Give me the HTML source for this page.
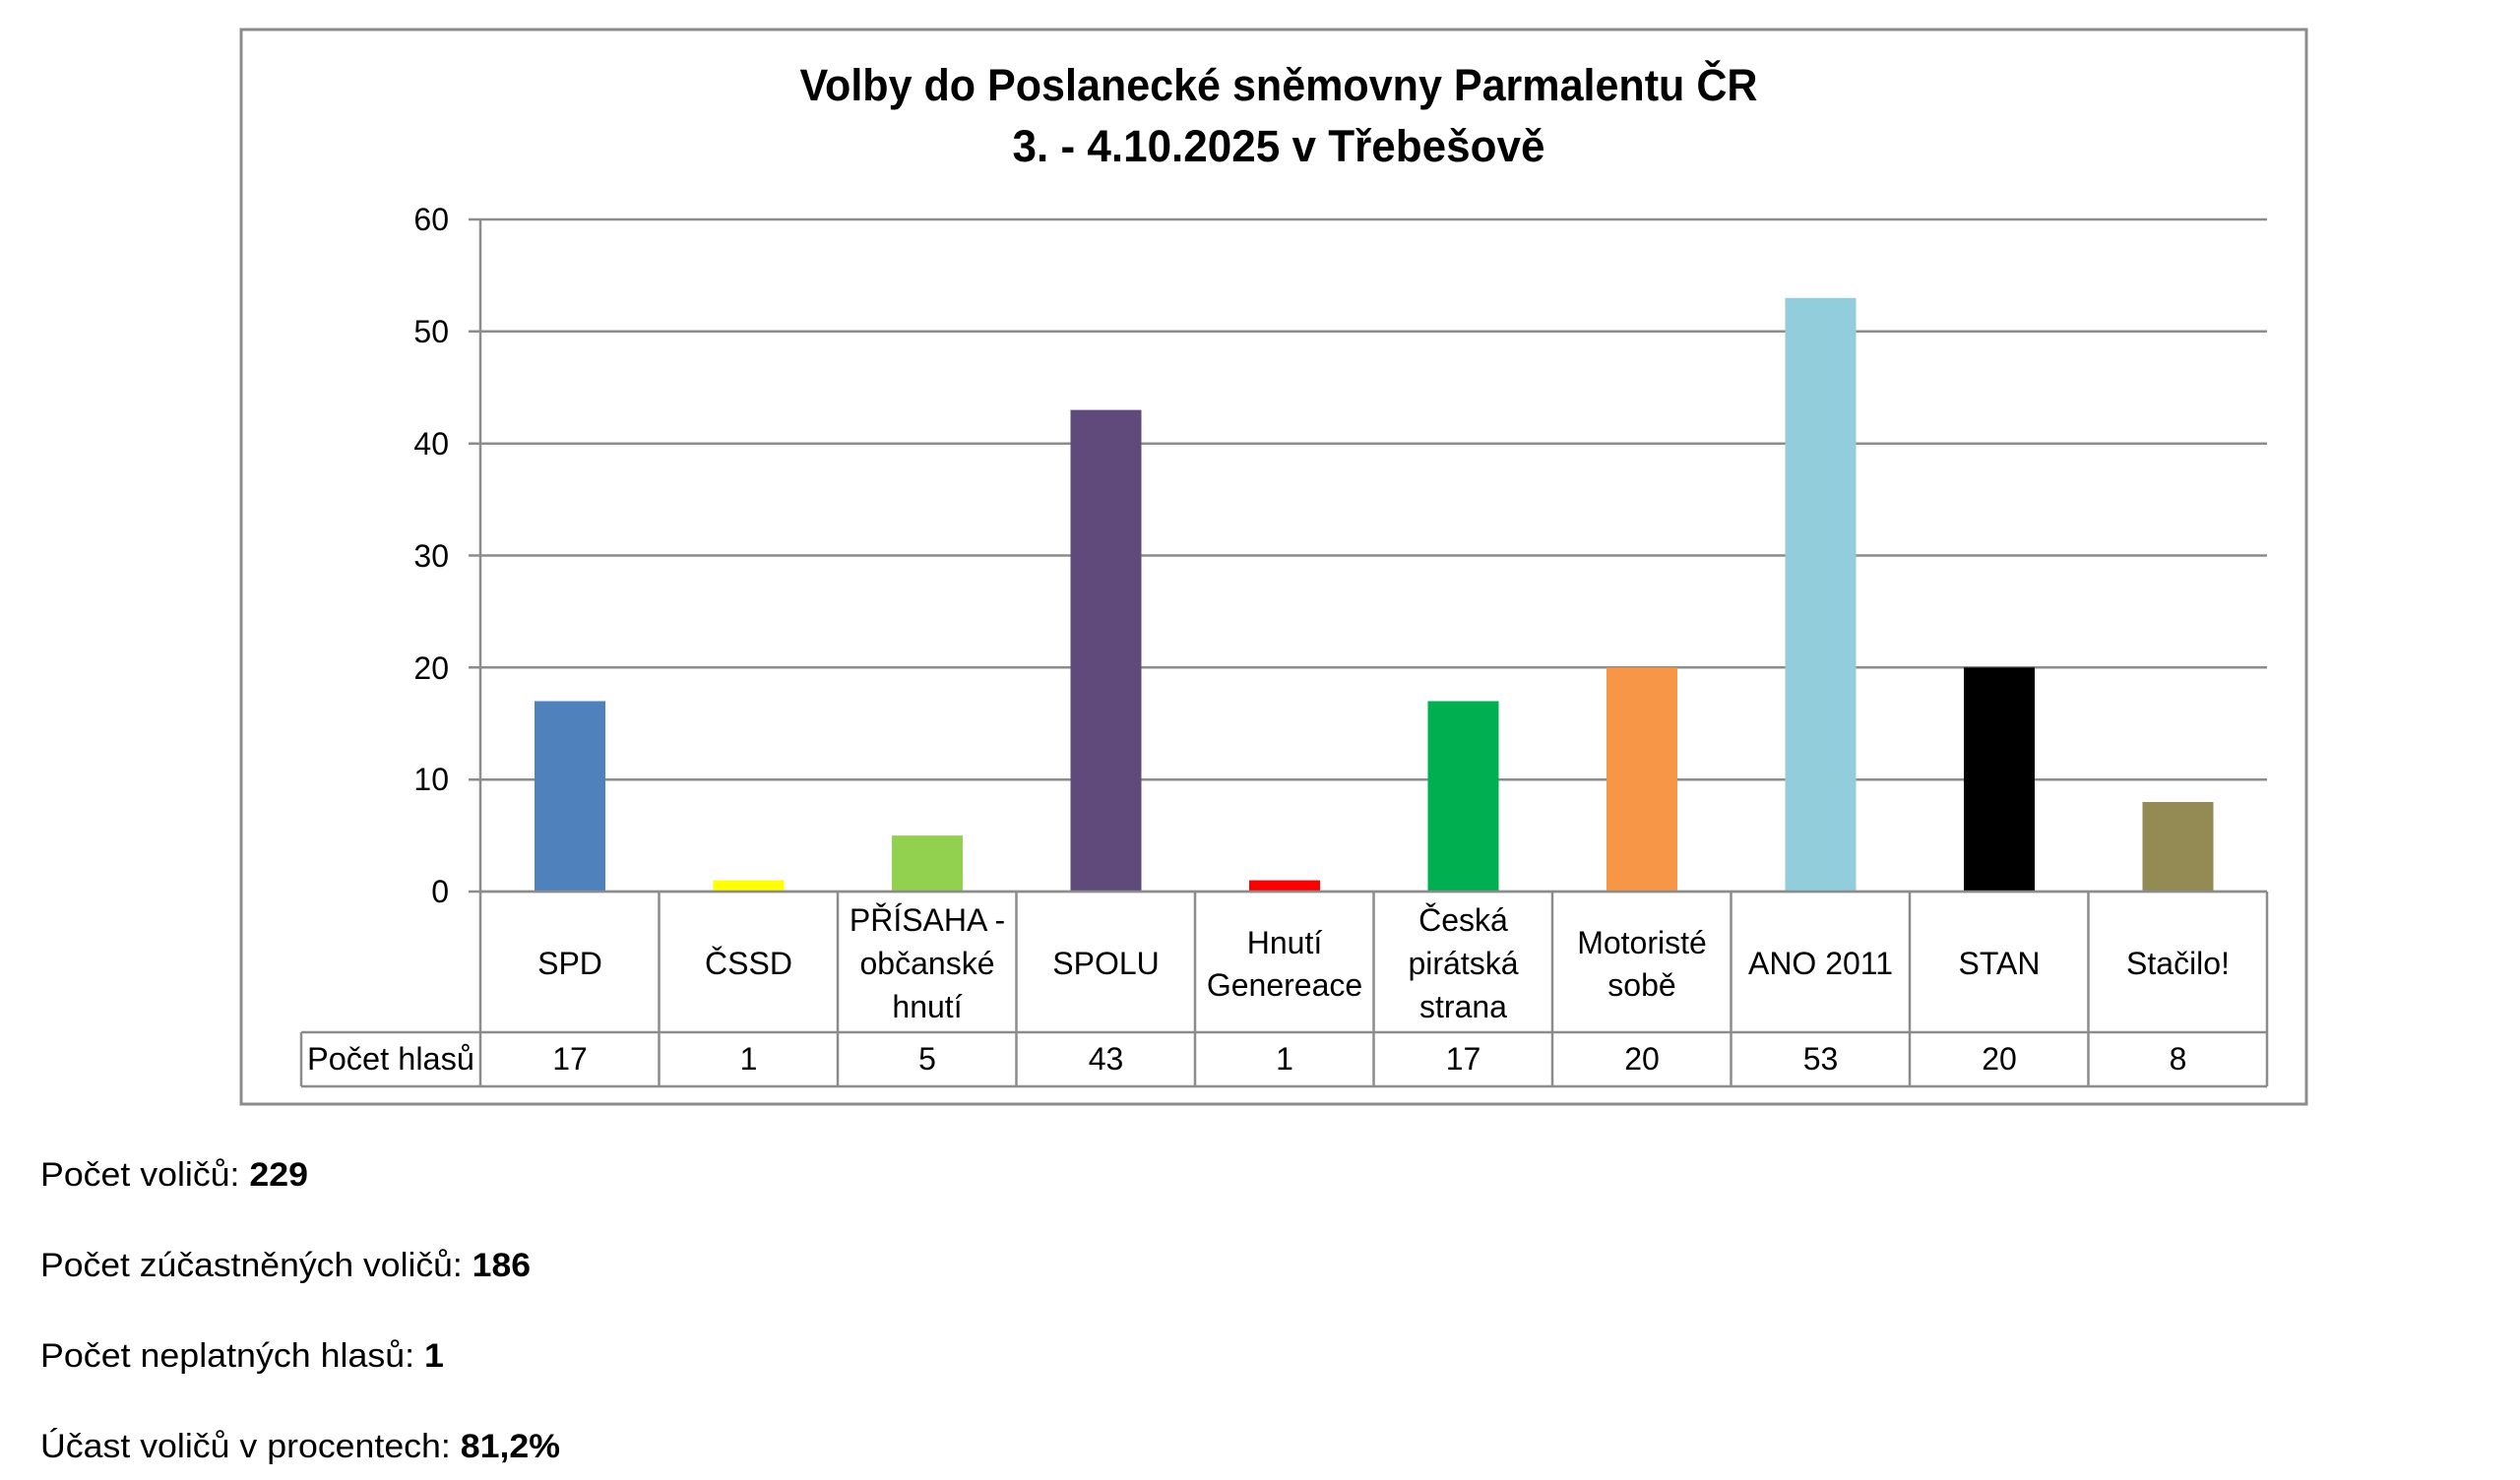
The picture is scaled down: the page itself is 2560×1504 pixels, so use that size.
<!DOCTYPE html>
<html><head><meta charset="utf-8"><style>
html,body{margin:0;padding:0;background:#fff;}
svg{display:block;}
text{font-family:"Liberation Sans",sans-serif;fill:#000;}
</style></head><body>
<svg width="2560" height="1504" viewBox="0 0 2560 1504" xmlns="http://www.w3.org/2000/svg">
<rect x="245" y="30" width="2098" height="1092" fill="#fff" stroke="#8c8c8c" stroke-width="3"/>
<text x="1299" y="102" font-size="45" font-weight="bold" text-anchor="middle" textLength="973" lengthAdjust="spacingAndGlyphs">Volby do Poslanecké sněmovny Parmalentu ČR</text>
<text x="1299" y="164" font-size="45" font-weight="bold" text-anchor="middle" textLength="541" lengthAdjust="spacingAndGlyphs">3. - 4.10.2025 v Třebešově</text>
<g stroke="#8c8c8c" stroke-width="2.5">
<line x1="476" y1="223" x2="2303" y2="223"/>
<line x1="476" y1="336.8" x2="2303" y2="336.8"/>
<line x1="476" y1="450.7" x2="2303" y2="450.7"/>
<line x1="476" y1="564.5" x2="2303" y2="564.5"/>
<line x1="476" y1="678.3" x2="2303" y2="678.3"/>
<line x1="476" y1="792.2" x2="2303" y2="792.2"/>
<line x1="476" y1="906" x2="2303" y2="906"/>
<line x1="488" y1="223" x2="488" y2="1104"/>
</g>
<g font-size="32" text-anchor="end">
<text x="456" y="234">60</text><text x="456" y="348">50</text><text x="456" y="462">40</text>
<text x="456" y="576">30</text><text x="456" y="690">20</text><text x="456" y="803">10</text><text x="456" y="917">0</text>
</g>
<g>
<rect x="543" y="712.5" width="72" height="193.5" fill="#4F81BD"/>
<rect x="724.5" y="894.6" width="72" height="11.4" fill="#FFFF00"/>
<rect x="906" y="849.1" width="72" height="56.9" fill="#92D050"/>
<rect x="1087.5" y="416.6" width="72" height="489.4" fill="#604A7B"/>
<rect x="1269" y="894.6" width="72" height="11.4" fill="#FF0000"/>
<rect x="1450.5" y="712.5" width="72" height="193.5" fill="#00B050"/>
<rect x="1632" y="678.3" width="72" height="227.7" fill="#F79646"/>
<rect x="1813.5" y="302.8" width="72" height="603.2" fill="#92CDDC"/>
<rect x="1995" y="678.3" width="72" height="227.7" fill="#000000"/>
<rect x="2176.5" y="815" width="72" height="91" fill="#948A54"/>
</g>
<g stroke="#8c8c8c" stroke-width="2.5" fill="none">
<line x1="488" y1="906" x2="2303" y2="906"/>
<line x1="306" y1="1049" x2="2303" y2="1049"/>
<line x1="306" y1="1104" x2="2303" y2="1104"/>
<line x1="306" y1="1049" x2="306" y2="1104"/>
<line x1="669.5" y1="906" x2="669.5" y2="1104"/>
<line x1="851" y1="906" x2="851" y2="1104"/>
<line x1="1032.5" y1="906" x2="1032.5" y2="1104"/>
<line x1="1214" y1="906" x2="1214" y2="1104"/>
<line x1="1395.5" y1="906" x2="1395.5" y2="1104"/>
<line x1="1577" y1="906" x2="1577" y2="1104"/>
<line x1="1758.5" y1="906" x2="1758.5" y2="1104"/>
<line x1="1940" y1="906" x2="1940" y2="1104"/>
<line x1="2121.5" y1="906" x2="2121.5" y2="1104"/>
<line x1="2303" y1="906" x2="2303" y2="1104"/>
</g>
<g font-size="32" text-anchor="middle">
<text x="579" y="990">SPD</text>
<text x="760.5" y="990">ČSSD</text>
<text x="942" y="946">PŘÍSAHA -</text><text x="942" y="990">občanské</text><text x="942" y="1034">hnutí</text>
<text x="1123.5" y="990">SPOLU</text>
<text x="1305" y="969">Hnutí</text><text x="1305" y="1012">Genereace</text>
<text x="1486.5" y="946">Česká</text><text x="1486.5" y="990">pirátská</text><text x="1486.5" y="1034">strana</text>
<text x="1668" y="969">Motoristé</text><text x="1668" y="1012">sobě</text>
<text x="1849.5" y="990">ANO 2011</text>
<text x="2031" y="990">STAN</text>
<text x="2212.5" y="990">Stačilo!</text>
<text x="397" y="1087" textLength="170" lengthAdjust="spacingAndGlyphs">Počet hlasů</text>
<text x="579" y="1087">17</text><text x="760.5" y="1087">1</text><text x="942" y="1087">5</text>
<text x="1123.5" y="1087">43</text><text x="1305" y="1087">1</text><text x="1486.5" y="1087">17</text>
<text x="1668" y="1087">20</text><text x="1849.5" y="1087">53</text><text x="2031" y="1087">20</text>
<text x="2212.5" y="1087">8</text>
</g>
<g font-size="34">
<text x="41" y="1205" textLength="272" lengthAdjust="spacingAndGlyphs">Počet voličů: <tspan font-weight="bold">229</tspan></text>
<text x="41" y="1297" textLength="498" lengthAdjust="spacingAndGlyphs">Počet zúčastněných voličů: <tspan font-weight="bold">186</tspan></text>
<text x="41" y="1389" textLength="410" lengthAdjust="spacingAndGlyphs">Počet neplatných hlasů: <tspan font-weight="bold">1</tspan></text>
<text x="41" y="1481" textLength="528" lengthAdjust="spacingAndGlyphs">Účast voličů v procentech: <tspan font-weight="bold">81,2%</tspan></text>
</g>
</svg>
</body></html>
